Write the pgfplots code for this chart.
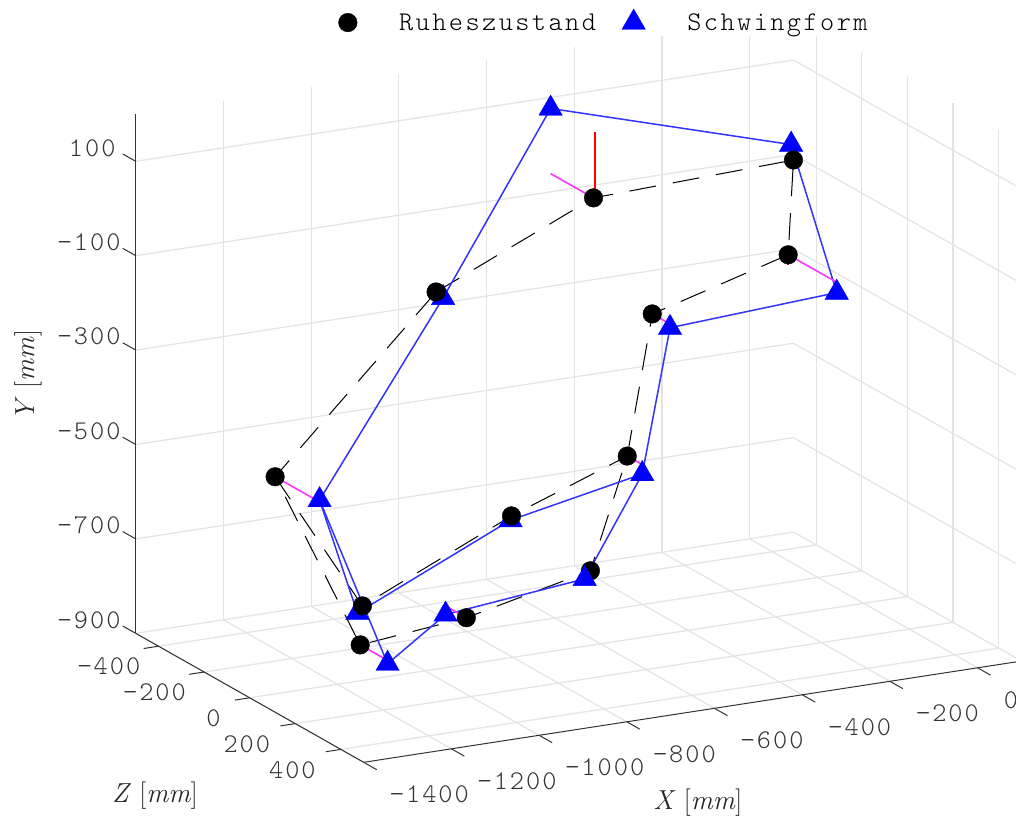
\documentclass[border=0pt]{standalone}
\usepackage{fontspec}
\usepackage{pgfplots}
\pgfplotsset{compat=1.18}
\newfontfamily\cour[LetterSpace=7.5]{lmmonolt10-regular.otf}
\newfontfamily\courleg[LetterSpace=9]{lmmonolt10-regular.otf}
\definecolor{axc}{gray}{0.2}
\definecolor{grd}{gray}{0.89}
\definecolor{mag}{rgb}{1,0.2,1}
\definecolor{bl}{rgb}{0,0,1}
\definecolor{bll}{rgb}{0.2,0.2,1}
\begin{document}
\begin{tikzpicture}
\begin{axis}[
  x={(0.4385pt,0.0675pt)},
  y={(-0.228pt,0.129pt)},
  z={(0pt,0.472pt)},
  y dir=reverse,
  xmin=-1400,xmax=100,ymin=-500,ymax=500,zmin=-900,zmax=200,
  clip=false,
  unbounded coords=jump,
  axis line style={draw=none},
  grid=major,
  grid style={grd,line width=1.2pt},
  major tick length=0pt,
  tick style={draw=none},
  ticklabel style={font=\fontsize{27}{27}\selectfont\cour,text=axc,inner sep=0pt},
  x tick label style={anchor=west,xshift=26pt,yshift=-32pt},
  y tick label style={anchor=east,xshift=-18pt,yshift=-20.5pt},
  z tick label style={anchor=east,xshift=-15pt,yshift=13.5pt},
  xtick={-1400,-1200,-1000,-800,-600,-400,-200,0},
  xticklabels={−1400,−1200,−1000,−800,−600,−400,−200,0},
  ytick={-400,-200,0,200,400},
  yticklabels={−400,−200,0\kern11pt,200\kern7pt,400\kern7pt},
  ztick={-900,-700,-500,-300,-100,100},
  zticklabels={−900,−700,−500,−300,−100,100\kern5pt},
  xlabel={\textit{X} [\textit{mm}]},
  ylabel={\textit{Z} [\textit{mm}]},
  zlabel={\textit{Y} [\textit{mm}]},
  label style={font=\fontsize{27.5}{28}\selectfont,text=black!85},
  xlabel style={at={(axis cs:-638,500,-900)},anchor=center,yshift=-92pt},
  ylabel style={at={(axis cs:-1400,500,-900)},anchor=center,xshift=-208.7pt,yshift=-33.7pt,rotate=0},
  zlabel style={at={(axis cs:-1400,-500,-350)},anchor=center,xshift=-1.3pt,yshift=107.7pt},
  legend columns=2,
  legend style={at={(axis description cs:0.5,1)},anchor=north,xshift=25.5pt,yshift=6pt,draw=none,fill=white,font=\fontsize{27}{27}\selectfont\courleg,text=black,/tikz/every even column/.append style={column sep=24pt},/tikz/every odd column/.append style={column sep=40pt}},
  legend cell align=left,
]
% axis lines
\addplot3[axc,line width=1pt,forget plot] coordinates {(-1400,-500,-900) (-1400,-500,200)};
\addplot3[axc,line width=1pt,forget plot] coordinates {(-1400,-500,-900) (-1400,500,-900) (100,500,-900)};
% tick marks
\addplot3[axc,line width=1pt,forget plot] coordinates {(-1400,500,-900) (-1400,557,-900) (nan,nan,nan) (-1200,500,-900) (-1200,557,-900) (nan,nan,nan) (-1000,500,-900) (-1000,557,-900) (nan,nan,nan) (-800,500,-900) (-800,557,-900) (nan,nan,nan) (-600,500,-900) (-600,557,-900) (nan,nan,nan) (-400,500,-900) (-400,557,-900) (nan,nan,nan) (-200,500,-900) (-200,557,-900) (nan,nan,nan) (0,500,-900) (0,557,-900)};
\addplot3[axc,line width=1pt,forget plot] coordinates {(-1400,-400,-900) (-1434,-400,-900) (nan,nan,nan) (-1400,-200,-900) (-1434,-200,-900) (nan,nan,nan) (-1400,0,-900) (-1434,0,-900) (nan,nan,nan) (-1400,200,-900) (-1434,200,-900) (nan,nan,nan) (-1400,400,-900) (-1434,400,-900)};
\addplot3[axc,line width=1pt,forget plot] coordinates {(-1400,-500,-900) (-1400,-557,-900) (nan,nan,nan) (-1400,-500,-700) (-1400,-557,-700) (nan,nan,nan) (-1400,-500,-500) (-1400,-557,-500) (nan,nan,nan) (-1400,-500,-300) (-1400,-557,-300) (nan,nan,nan) (-1400,-500,-100) (-1400,-557,-100) (nan,nan,nan) (-1400,-500,100) (-1400,-557,100)};
% rest state
\addplot3[black,line width=1pt,dash pattern=on 27pt off 17pt,forget plot] coordinates {(-975,0,-101) (-616,0,47) (-160,0,62) (-172,0,-137) (-482,0,-218) (-539,0,-511) (-623,0,-742) (-906,0,-801) (-1148,0,-824) (-1342,0,-440) (-975,0,-101)};
\addplot3[black,line width=1pt,dash pattern=on 27pt off 17pt,forget plot] coordinates {(-1342,0,-440) (-1143,0,-742) (-803,0,-600) (-539,0,-511)};
% mode shape
\addplot3[bll,line width=1.5pt,forget plot] coordinates {(-975,31,-105) (-616,-188,185) (-160,-10,92) (-172,213,-159) (-482,78,-226) (-539,66,-531) (-623,-25,-766) (-906,-91,-819) (-1148,120,-831) (-1342,195,-436) (-975,31,-105)};
\addplot3[bll,line width=1.5pt,forget plot] coordinates {(-1342,195,-436) (-1143,-22,-763) (-803,-4,-610) (-539,66,-531)};
% circles below
\addplot3[only marks,mark=*,mark size=9.3pt,black] coordinates {(-616,0,47) (-172,0,-137) (-482,0,-218) (-539,0,-511) (-623,0,-742) (-1148,0,-824) (-1342,0,-440)};
% displacement components
\addplot3[mag,line width=1.6pt,forget plot] coordinates {(-616,0,47) (-616,-188,47) (nan,nan,nan) (-172,0,-137) (-172,213,-137) (nan,nan,nan) (-482,0,-218) (-482,78,-218) (nan,nan,nan) (-539,0,-511) (-539,66,-511) (nan,nan,nan) (-906,0,-801) (-906,-91,-801) (nan,nan,nan) (-1148,0,-824) (-1148,120,-824) (nan,nan,nan) (-1342,0,-440) (-1342,195,-440)};
\addplot3[red,line width=1.6pt,forget plot] coordinates {(-612,0,47) (-612,0,185)};
\addplot3[red,line width=1.6pt,forget plot] coordinates {(-172,0,-137) (-172,0,-159)};
% triangles
\addplot3[only marks,mark=triangle*,mark size=13.5pt,bl] coordinates {(-975,31,-105) (-616,-188,185) (-160,-10,92) (-172,213,-159) (-482,78,-226) (-539,66,-531) (-623,-25,-766) (-906,-91,-819) (-1148,120,-831) (-1143,-22,-763) (-803,-4,-610) (-1342,195,-436)};
% circles on top
\addplot3[only marks,mark=*,mark size=9.3pt,black,forget plot] coordinates {(-160,0,62) (-906,0,-801) (-1143,0,-742) (-803,0,-600) (-975,0,-101)};
\addplot3[red,line width=1.6pt,forget plot] coordinates {(-160,0,62) (-160,0,92)};
\legend{Ruheszustand,Schwingform}
\coordinate (O) at (axis cs:-1400,-500,-900);
\end{axis}
\pgfresetboundingbox
\path[use as bounding box] (O) ++(-135.7pt,-189.7pt) rectangle ++(1016pt,823pt);
\end{tikzpicture}
\end{document}
